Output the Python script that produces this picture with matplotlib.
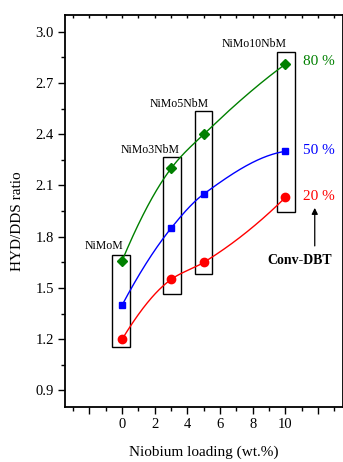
import numpy as np
import matplotlib
matplotlib.use("Agg")
import matplotlib.pyplot as plt
from matplotlib.patches import Rectangle
from matplotlib.ticker import MultipleLocator

plt.rcParams['font.family'] = ['Liberation Serif', 'DejaVu Serif']

nb_loading = [0, 3, 5, 10]
conv80 = [1.66, 2.20, 2.40, 2.81]
conv50 = [1.40, 1.85, 2.05, 2.30]
conv20 = [1.20, 1.55, 1.65, 2.03]
series_labels = ['80 %', '50 %', '20 %']
catalysts = ['NiMoM', 'NiMo3NbM', 'NiMo5NbM', 'NiMo10NbM']
# boxes (x0, x1, y0, y1) around each catalyst's points
boxes = [(-0.6, 0.5, 1.153, 1.695), (2.5, 3.63, 1.467, 2.264),
         (4.47, 5.53, 1.58, 2.538), (9.5, 10.6, 1.944, 2.883)]
label_pos = [(-1.1, 1.743), (1.7, 2.309), (3.5, 2.579), (8.1, 2.926)]


def pchip(x, y, xs):
    x = np.asarray(x, float)
    y = np.asarray(y, float)
    h = np.diff(x)
    d = np.diff(y) / h
    n = len(x)
    m = np.zeros(n)
    for k in range(1, n - 1):
        if d[k - 1] * d[k] > 0:
            w1 = 2 * h[k] + h[k - 1]
            w2 = h[k] + 2 * h[k - 1]
            m[k] = (w1 + w2) / (w1 / d[k - 1] + w2 / d[k])
    m[0] = ((2 * h[0] + h[1]) * d[0] - h[0] * d[1]) / (h[0] + h[1])
    if np.sign(m[0]) != np.sign(d[0]):
        m[0] = 0
    m[-1] = ((2 * h[-1] + h[-2]) * d[-1] - h[-1] * d[-2]) / (h[-1] + h[-2])
    if np.sign(m[-1]) != np.sign(d[-1]):
        m[-1] = 0
    out = np.empty_like(xs)
    for i, xv in enumerate(xs):
        k = min(np.searchsorted(x, xv, side='right') - 1, n - 2)
        t = (xv - x[k]) / h[k]
        h00 = 2 * t**3 - 3 * t**2 + 1
        h10 = t**3 - 2 * t**2 + t
        h01 = -2 * t**3 + 3 * t**2
        h11 = t**3 - t**2
        out[i] = h00 * y[k] + h10 * h[k] * m[k] + h01 * y[k + 1] + h11 * h[k] * m[k + 1]
    return out


fig = plt.figure(figsize=(3.43, 4.62), dpi=100)
ax = fig.add_axes([65/343, (462-406.7)/462, (342.5-65)/343, (406.7-15)/462])

colors = ['#008000', '#0000ff', '#ff0000']
markers = ['D', 's', 'o']
msizes = [5.5, 5, 6]
for ys, c, m, ms, lab, ly in zip([conv80, conv50, conv20], colors, markers, msizes,
                                 series_labels, [2.825, 2.305, 2.036]):
    xs = np.linspace(min(nb_loading), max(nb_loading), 300)
    ax.plot(xs, pchip(nb_loading, ys, xs), color=c, lw=1.0)
    ax.plot(nb_loading, ys, ls='none', marker=m, color=c, ms=ms)
    ax.text(11.05, ly, lab, color=c, fontsize=11, va='center', ha='left')

for (x0, x1, y0, y1), name, (tx, ty) in zip(boxes, catalysts, label_pos):
    ax.add_patch(Rectangle((x0, y0), x1 - x0, y1 - y0, fill=False, ec='black', lw=1.0))
    ax.text(tx, ty, name, fontsize=8.5, ha='center', va='center')

ax.annotate('', xy=(11.8, 1.985), xytext=(11.8, 1.73),
            arrowprops=dict(arrowstyle='-|>', color='black', lw=0.9, mutation_scale=9))
ax.text(10.9, 1.66, 'Conv-DBT', fontsize=10, fontweight='bold', ha='center', va='center')

ax.set_xlim(-3.5, 13.5)
ax.set_ylim(0.805, 3.098)
ax.set_xticks([-2, 0, 2, 4, 6, 8, 10, 12])
ax.set_xticklabels(['', '0', '2', '4', '6', '8', '10', ''])
ax.xaxis.set_minor_locator(MultipleLocator(1))
ax.set_yticks([0.9, 1.2, 1.5, 1.8, 2.1, 2.4, 2.7, 3.0])
ax.yaxis.set_minor_locator(MultipleLocator(0.15))
ax.tick_params(axis='both', which='major', direction='out', length=5, width=1.0,
               labelsize=10.5, pad=3)
ax.tick_params(axis='both', which='minor', direction='out', length=3, width=1.0)
ax.tick_params(axis='x', which='both', top=True)
for t in ax.xaxis.get_major_ticks() + ax.xaxis.get_minor_ticks():
    t.tick2line.set_marker(3)  # small inward tick on top
    t.tick2line.set_markersize(2)
for s in ax.spines.values():
    s.set_linewidth(1.3)

ax.set_xlabel('Niobium loading (wt.%)', fontsize=11)
ax.set_ylabel('HYD/DDS ratio', fontsize=11)
ax.xaxis.set_label_coords((203.5-65)/277.5, -(452.7-406.7)/391.7)
ax.yaxis.set_label_coords(-(65-18)/277.5, (406.7-221)/391.7)
ax.xaxis.label.set_va('center')
ax.yaxis.label.set_va('center')

fig.savefig('out.png', dpi=100)
